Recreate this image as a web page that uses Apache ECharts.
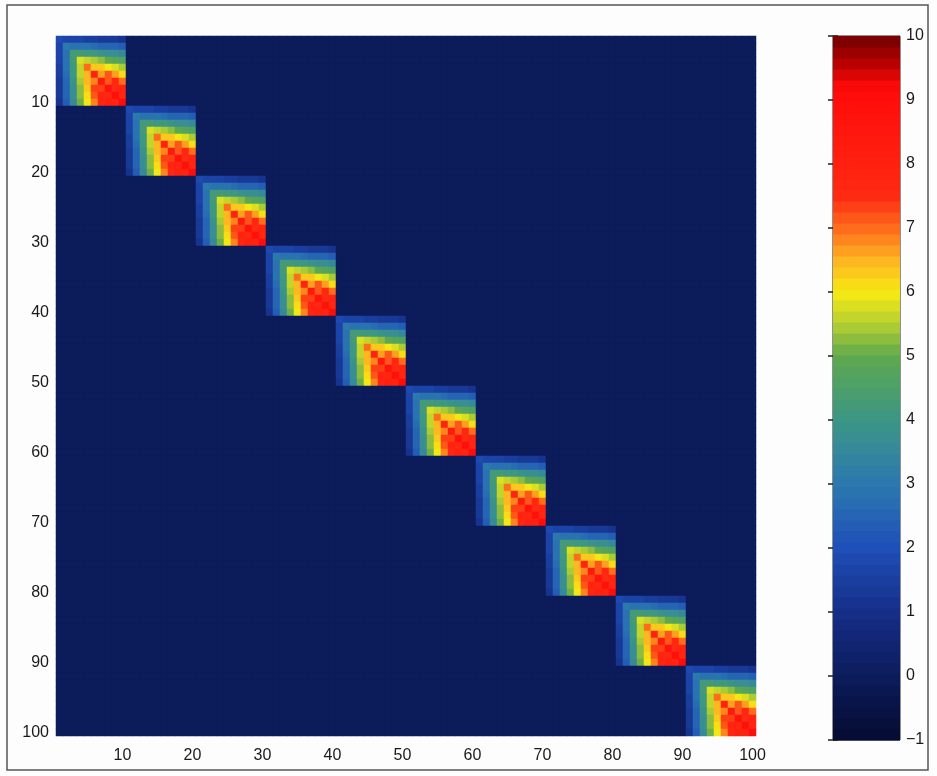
<!DOCTYPE html>
<html>
<head>
<meta charset="utf-8">
<style>
  html, body { margin: 0; padding: 0; background: #fdfdfd; }
  #chart { width: 937px; height: 776px; }
</style>
<script src="https://cdn.jsdelivr.net/npm/echarts@6/dist/echarts.min.js"></script>
</head>
<body>
<div id="chart"></div>
<script>
// Matrix size and block layout
const matrixSize = 100;
const blockSize = 10;
const blockCount = 10;

// One 10x10 diagonal block (rows top to bottom)
const blockValues = [
  [1.8, 1.7, 1.6, 1.6, 1.5, 1.45, 1.4, 1.3, 1.25, 1.2],
  [1.7, 3.0, 2.9, 2.8, 2.8, 2.7, 2.6, 2.6, 2.5, 2.4],
  [1.6, 2.9, 4.3, 4.2, 4.1, 4.0, 3.9, 3.8, 3.7, 3.6],
  [1.6, 2.8, 4.2, 5.8, 5.6, 5.4, 5.2, 5.0, 4.8, 4.6],
  [1.5, 2.8, 4.1, 5.7, 7.0, 6.3, 6.3, 6.0, 5.8, 5.5],
  [1.45, 2.7, 4.0, 5.55, 6.4, 7.9, 6.7, 7.1, 6.6, 6.2],
  [1.4, 2.6, 3.9, 5.4, 6.5, 6.9, 8.4, 7.2, 7.6, 7.0],
  [1.3, 2.6, 3.8, 5.3, 6.3, 7.3, 7.3, 8.7, 7.5, 7.9],
  [1.25, 2.5, 3.7, 5.2, 6.1, 7.1, 7.8, 7.6, 8.9, 7.7],
  [1.2, 2.4, 3.6, 5.1, 6.0, 6.8, 7.6, 8.1, 7.8, 9.1]
];
// Value outside the blocks
const offBlockValue = 0;

// Axis tick labels
const axisTicks = [10, 20, 30, 40, 50, 60, 70, 80, 90, 100];
const colorbarTicks = [-1, 0, 1, 2, 3, 4, 5, 6, 7, 8, 9, 10];

// Colour scale range and its colour stops
const scaleMin = -1;
const scaleMax = 10;
const bandCount = 64;
const colorStops = [
  [-1.0, '#050a30'],
  [0.0, '#0c1c5c'],
  [1.0, '#162e88'],
  [2.0, '#1f4fb8'],
  [3.0, '#2c78b0'],
  [4.0, '#3c9684'],
  [5.0, '#5ea84e'],
  [5.5, '#b4cf32'],
  [6.0, '#f6ea12'],
  [6.5, '#ffb422'],
  [7.0, '#ff6c1c'],
  [7.5, '#ff2a12'],
  [9.2, '#ff0a0a'],
  [9.6, '#b40000'],
  [10.0, '#700000']
];

function hexToRgb(h) {
  return [parseInt(h.slice(1, 3), 16), parseInt(h.slice(3, 5), 16), parseInt(h.slice(5, 7), 16)];
}
function colorAt(v) {
  if (v <= colorStops[0][0]) return colorStops[0][1];
  for (let k = 1; k < colorStops.length; k++) {
    const [v1, c1] = colorStops[k];
    const [v0, c0] = colorStops[k - 1];
    if (v <= v1) {
      const t = (v - v0) / (v1 - v0);
      const a = hexToRgb(c0), b = hexToRgb(c1);
      const c = a.map((x, i) => Math.round(x + (b[i] - x) * t));
      return 'rgb(' + c.join(',') + ')';
    }
  }
  return colorStops[colorStops.length - 1][1];
}

// Stepped colour bands shared by the heatmap and the colour bar
const bandStep = (scaleMax - scaleMin) / bandCount;
const pieces = [];
for (let b = 0; b < bandCount; b++) {
  const lo = scaleMin + b * bandStep;
  const hi = lo + bandStep;
  pieces.push({ gte: lo, lt: b === bandCount - 1 ? hi + 1e-6 : hi, color: colorAt(lo + bandStep / 2) });
}
const bandData = pieces.map((p, i) => [scaleMin + i * bandStep, scaleMin + (i + 1) * bandStep, i]);

// Heatmap cells: blocks along the diagonal, constant elsewhere
const categories = [];
for (let i = 1; i <= matrixSize; i++) categories.push(String(i));
const cells = [];
for (let r = 0; r < matrixSize; r++) {
  for (let c = 0; c < matrixSize; c++) {
    const br = Math.floor(r / blockSize), bc = Math.floor(c / blockSize);
    const v = (br === bc && br < blockCount) ? blockValues[r % blockSize][c % blockSize] : offBlockValue;
    cells.push([c, r, v]);
  }
}

const labelFont = { fontFamily: 'Liberation Sans, Arial, sans-serif', fontSize: 16, color: '#1a1a1a' };
const showTick = (idx) => axisTicks.indexOf(idx + 1) >= 0;

const chart = echarts.init(document.getElementById('chart'), null, { renderer: 'canvas' });
chart.setOption({
  backgroundColor: '#fdfdfd',
  animation: false,
  graphic: [{
    type: 'rect',
    shape: { x: 7, y: 5, width: 921, height: 765 },
    style: { fill: 'none', stroke: '#555', lineWidth: 1.5 },
    silent: true
  }],
  grid: [
    { left: 56, top: 36, width: 700, height: 700 },
    { left: 833, top: 36, width: 67, height: 704, show: true, borderColor: '#222', borderWidth: 1, backgroundColor: 'transparent' }
  ],
  xAxis: [
    {
      gridIndex: 0, type: 'category', data: categories,
      axisLine: { show: false }, axisTick: { show: false }, splitLine: { show: false },
      axisLabel: Object.assign({ interval: showTick, margin: 12 }, labelFont)
    },
    { gridIndex: 1, type: 'value', min: 0, max: 1, show: false }
  ],
  yAxis: [
    {
      gridIndex: 0, type: 'category', data: categories, inverse: true,
      axisLine: { show: false }, axisTick: { show: false }, splitLine: { show: false },
      axisLabel: Object.assign({ interval: showTick, margin: 7 }, labelFont)
    },
    {
      gridIndex: 1, type: 'value', min: scaleMin, max: scaleMax, interval: 1, position: 'right',
      axisLine: { show: false }, splitLine: { show: false },
      axisTick: { show: true, inside: true, length: 5, lineStyle: { color: '#222', width: 1.5 } },
      axisLabel: Object.assign({ margin: 6, formatter: (v) => (colorbarTicks.indexOf(v) >= 0 ? (v < 0 ? '\u2212' + Math.abs(v) : String(v)) : '') }, labelFont)
    },
    {
      gridIndex: 1, type: 'value', min: scaleMin, max: scaleMax, interval: 1, position: 'left',
      axisLine: { show: false }, splitLine: { show: false }, axisLabel: { show: false },
      axisTick: { show: true, inside: true, length: 5, lineStyle: { color: '#222', width: 1.5 } }
    }
  ],
  visualMap: {
    type: 'piecewise', show: false, seriesIndex: 0, dimension: 2,
    pieces: pieces
  },
  series: [
    {
      type: 'heatmap', xAxisIndex: 0, yAxisIndex: 0, data: cells,
      progressive: 0, itemStyle: { borderWidth: 0 }, emphasis: { disabled: true }
    },
    {
      type: 'custom', xAxisIndex: 1, yAxisIndex: 1, data: bandData, z: 1,
      renderItem: function (params, api) {
        const p0 = api.coord([0, api.value(1)]);
        const p1 = api.coord([1, api.value(0)]);
        return {
          type: 'rect',
          shape: { x: p0[0], y: p0[1], width: p1[0] - p0[0], height: p1[1] - p0[1] + 0.5 },
          style: { fill: pieces[api.value(2)].color }
        };
      }
    }
  ]
});
</script>
</body>
</html>
